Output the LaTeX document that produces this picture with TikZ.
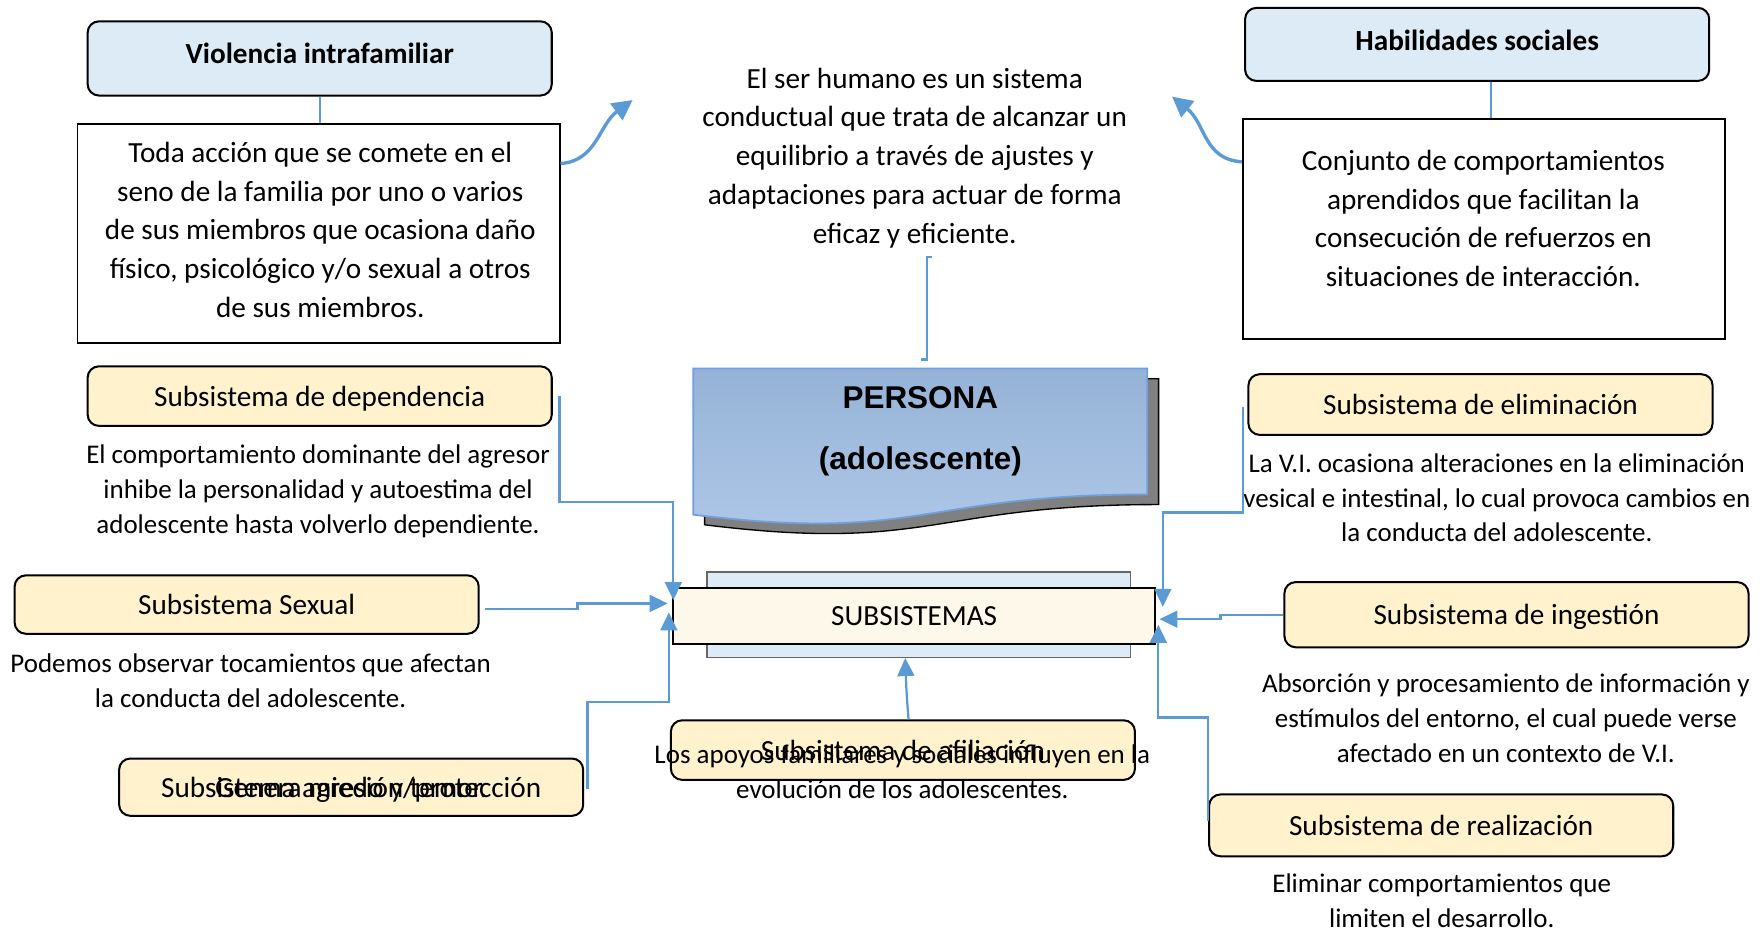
\documentclass[tikz,border=0pt]{standalone}
\usepackage{fontspec}
\setmainfont{Carlito}
\newfontfamily\arialfont{Liberation Sans}
\usetikzlibrary{arrows.meta}
\definecolor{lineblue}{RGB}{91, 155, 213}
\definecolor{titleblue}{RGB}{221, 235, 247}
\definecolor{subcream}{RGB}{255, 242, 204}
\definecolor{palecream}{RGB}{254, 248, 234}
\definecolor{backblue}{RGB}{222, 234, 246}
\definecolor{personatop}{RGB}{149, 179, 215}
\definecolor{personabot}{RGB}{176, 200, 232}
\definecolor{personaline}{RGB}{111, 160, 220}
\definecolor{shadowgray}{RGB}{128, 128, 128}

\begin{document}
\begin{tikzpicture}[x=0.5pt, y=-0.5pt,
  every node/.style={font=\fontsize{13}{17.25}\selectfont, inner sep=0pt},
  titlebox/.style={draw, line width=0.9pt, rounded corners=5pt, fill=titleblue, font=\fontsize{13}{16}\selectfont\bfseries, minimum width=206.5pt},
  subbox/.style={draw, line width=0.9pt, rounded corners=5pt, fill=subcream, minimum width=206.5pt, text depth=0pt},
  descbox/.style={draw, line width=0.8pt, minimum width=214.5pt},
  note/.style={align=center, font=\fontsize{12}{15.5}\selectfont},
  link/.style={draw=lineblue, line width=1pt},
  flow/.style={link, -{Triangle[length=8pt, width=7.5pt]}},
  curvy/.style={link, line width=1.5pt, -{Triangle[length=9pt, width=9pt]}}]

  \useasboundingbox (0,0) rectangle (1568,829);

  % top left
  \node[titlebox, minimum height=33pt] (vio) at (284.5,52) {\raisebox{5pt}{Violencia intrafamiliar}};
  \node[descbox, minimum height=97.5pt] (viodesc) at (283.5,207.5) {};
  \node[align=center] (viotext) at (285,204.5) {Toda acción que se comete en el\\seno de la familia por uno o varios\\de sus miembros que ocasiona daño\\físico, psicológico y/o sexual a otros\\de sus miembros.};
  \draw[link] (vio.south) -- (vio.south |- viodesc.north);

  % top right
  \node[titlebox, minimum height=32.5pt] (hab) at (1314.5,39.5) {\raisebox{4pt}{Habilidades sociales}};
  \node[descbox, minimum height=98pt] (habdesc) at (1320.5,204) {};
  \node[align=center] (habtext) at (1320,194.5) {Conjunto de comportamientos\\aprendidos que facilitan la\\consecución de refuerzos en\\situaciones de interacción.};
  \draw[link] ([xshift=6pt]hab.south) -- ([xshift=6pt]hab.south |- habdesc.north);

  % centre text
  \node[align=center] (ser) at (814,140.5) {El ser humano es un sistema\\conductual que trata de alcanzar un\\equilibrio a través de ajustes y\\adaptaciones para actuar de forma\\eficaz y eficiente.};
  \coordinate (vtip) at (563,89);
  \coordinate (htip) at (1043,86);
  \draw[curvy] ([yshift=31pt]viodesc.east) .. controls +(32,-2) and +(-30,22) .. (vtip);
  \draw[curvy] ([yshift=30pt]habdesc.west) .. controls +(-34,-2) and +(30,24) .. (htip);

  % persona
  \filldraw[fill=shadowgray, draw=black, line width=0.6pt] (627,337) -- (1031,337) -- (1031,449) .. controls (829,449) and (829,492) .. (627,467) -- cycle;
  \shadedraw[top color=personatop, bottom color=personabot, draw=personaline, line width=0.8pt] (617,328) -- (1021,328) -- (1021,440) .. controls (819,440) and (819,483) .. (617,458) -- cycle;
  \coordinate (personatop) at (820,328);
  \node[font=\arialfont\bfseries\fontsize{14}{27}\selectfont, align=center] (persona) at (819,384) {PERSONA\\(adolescente)};
  \draw[link] ([xshift=7.5pt,yshift=-4pt]ser.south) -- ++(-4,0) |- ([yshift=4pt]personatop);

  % subsistemas
  \node[draw=black!60, line width=0.6pt, fill=backblue, minimum width=188.5pt, minimum height=38pt] (subback) at (817.5,547) {};
  \node[draw, line width=0.8pt, fill=palecream, minimum width=214.5pt, minimum height=25pt, text depth=0pt] (subsis) at (813.5,548) {SUBSISTEMAS};

  % left side
  \node[subbox, minimum height=26.5pt] (dep) at (284.5,352.5) {Subsistema de dependencia};
  \node[note] (depdesc) at (283,437) {El comportamiento dominante del agresor\\inhibe la personalidad y autoestima del\\adolescente hasta volverlo dependiente.};
  \node[subbox, minimum height=26pt] (sex) at (219.5,538) {Subsistema Sexual};
  \node[note] (sexdesc) at (223,605.5) {Podemos observar tocamientos que afectan\\la conducta del adolescente.};
  \node[subbox, minimum height=25.5pt] (agr) at (312.5,700.5) {Subsistema agresión/protección};
  \node[text depth=0pt] (agrnote) at (agr) {Genera miedo y temor.};

  % bottom
  \node[subbox, minimum height=26.5pt] (afi) at (803.5,667.5) {Subsistema de afiliación};
  \node[note] (afinote) at (803,687) {Los apoyos familiares y sociales influyen en la\\evolución de los adolescentes.};

  % right side
  \node[subbox, minimum height=27pt] (eli) at (1317.5,360) {Subsistema de eliminación};
  \node[note] (elidesc) at (1332,443) {La V.I. ocasiona alteraciones en la eliminación\\vesical e intestinal, lo cual provoca cambios en\\la conducta del adolescente.};
  \node[subbox, minimum height=29pt] (ing) at (1349.5,547) {Subsistema de ingestión};
  \node[note] (ingdesc) at (1340,639) {Absorción y procesamiento de información y\\estímulos del entorno, el cual puede verse\\afectado en un contexto de V.I.};
  \node[subbox, minimum height=27.5pt] (rea) at (1282.5,734.5) {Subsistema de realización};
  \node[note] (readesc) at (1283,801.5) {Eliminar comportamientos que\\limiten el desarrollo.};

  % connectors to subsistemas
  \draw[flow] ([xshift=3pt]dep.east) -- ++(0,94) -| ([xshift=0.5pt,yshift=7pt]subsis.west);
  \draw[flow] ([xshift=2.5pt,yshift=-2pt]sex.east) -- ++(82,0) |- ([xshift=-2pt,yshift=5.5pt]subsis.west);
  \draw[flow] ([xshift=1.5pt,yshift=-1pt]agr.east) -- ++(0,-78) -| ([xshift=-1.5pt,yshift=1.5pt]subsis.west);
  \draw[flow] ([xshift=2.5pt]afi.north) .. controls +(-2,-25) and +(1,25) .. ([xshift=-6pt]subback.south);
  \draw[flow] ([xshift=-2pt,yshift=-1pt]eli.west) -- ++(0,94) -| ([xshift=3pt,yshift=4pt]subsis.east);
  \draw[flow] (ing.west) -- ++(-56,0) |- ([xshift=1.5pt,yshift=-1.5pt]subsis.east);
  \draw[flow] ([yshift=2pt]rea.west) -- ++(0,-92) -| ([xshift=1pt,yshift=-4pt]subsis.east);

\end{tikzpicture}
\end{document}
